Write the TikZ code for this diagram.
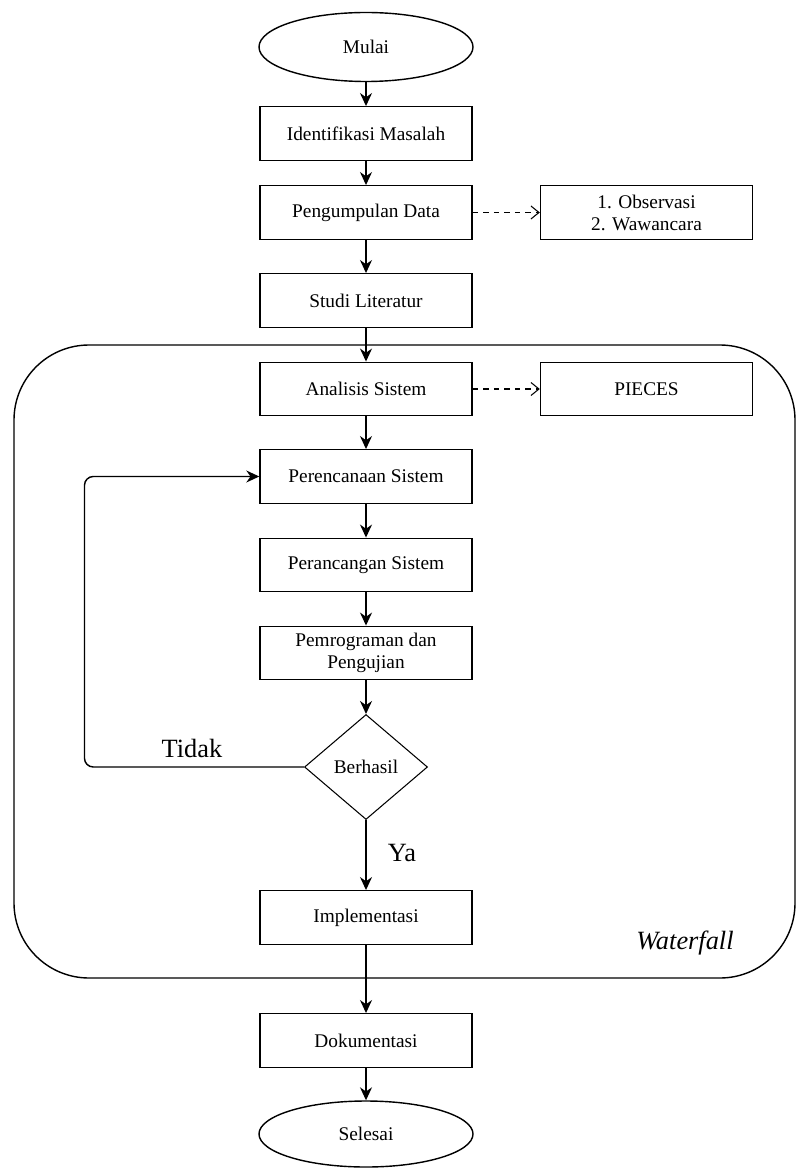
\documentclass[tikz,border=0pt]{standalone}
\usepackage{fontspec}
\setmainfont{Liberation Serif}
\usetikzlibrary{positioning,arrows.meta,shapes.geometric}

\begin{document}
\begin{tikzpicture}[
    proc/.style={draw, line width=0.8pt, align=center, font=\fontsize{11}{12.5}\selectfont, minimum width=4.24cm, minimum height=1.07cm, inner sep=0pt},
    term/.style={draw, ellipse, line width=0.8pt, font=\fontsize{11}{12.5}\selectfont, minimum width=4.28cm, minimum height=1.38cm, inner sep=0pt},
    cond/.style={draw, diamond, line width=0.6pt, font=\fontsize{11}{12.5}\selectfont, minimum width=2.46cm, minimum height=2.1cm, inner sep=0pt},
    lbl/.style={font=\fontsize{15}{17}\selectfont},
    arr/.style={-{Stealth[length=2.6mm, width=2.4mm]}, line width=0.8pt},
    darr/.style={-{Straight Barb[length=1.6mm, width=2.6mm]}, dashed, line width=0.6pt}]
  \useasboundingbox (0,0) rectangle (15.94,-23.36);
  % waterfall frame
  \draw[line width=0.8pt, rounded corners=1.5cm] (0.28,-6.9) rectangle (15.9,-19.56);
  \node[font=\fontsize{15}{17}\selectfont\itshape] (wf) at (13.7,-18.86) {Waterfall};
  \node[term] (mulai)   at (7.32,-0.94)  {Mulai};
  \node[proc] (idm)     at (7.32,-2.67)  {Identifikasi Masalah};
  \node[proc] (pd)      at (7.32,-4.25)  {Pengumpulan Data};
  \node[proc] (obs)     at (12.93,-4.25) {1. Observasi\\2. Wawancara};
  \node[proc] (sl)      at (7.32,-6.01)  {Studi Literatur};
  \node[proc] (ans)     at (7.32,-7.78)  {Analisis Sistem};
  \node[proc] (pieces)  at (12.93,-7.78) {PIECES};
  \node[proc] (pren)    at (7.32,-9.53)  {Perencanaan Sistem};
  \node[proc] (pran)    at (7.32,-11.30) {Perancangan Sistem};
  \node[proc] (prog)    at (7.32,-13.06) {Pemrograman dan\\Pengujian};
  \node[cond] (hasil)   at (7.32,-15.34) {Berhasil};
  \node[proc] (impl)    at (7.32,-18.35) {Implementasi};
  \node[proc] (dok)     at (7.32,-20.81) {Dokumentasi};
  \node[term, minimum height=1.32cm] (selesai) at (7.32,-22.68) {Selesai};
  \node[lbl] (tidak) at (3.84,-14.96) {Tidak};
  \node[lbl] (ya)    at (8.04,-17.06) {Ya};
  \draw[arr] (mulai) -- (idm); \draw[arr] (idm) -- (pd); \draw[arr] (pd) -- (sl); \draw[arr] (sl) -- (ans);
  \draw[arr] (ans) -- (pren); \draw[arr] (pren) -- (pran); \draw[arr] (pran) -- (prog); \draw[arr] (prog) -- (hasil);
  \draw[arr] (hasil) -- (impl); \draw[arr] (impl) -- (dok); \draw[arr] (dok) -- (selesai);
  \draw[darr] (pd) -- (obs);
  \draw[darr] (ans) -- (pieces);
  \draw[arr, rounded corners=5pt] (hasil.west) -- ++(-4.39,0) |- (pren.west);
\end{tikzpicture}
\end{document}
